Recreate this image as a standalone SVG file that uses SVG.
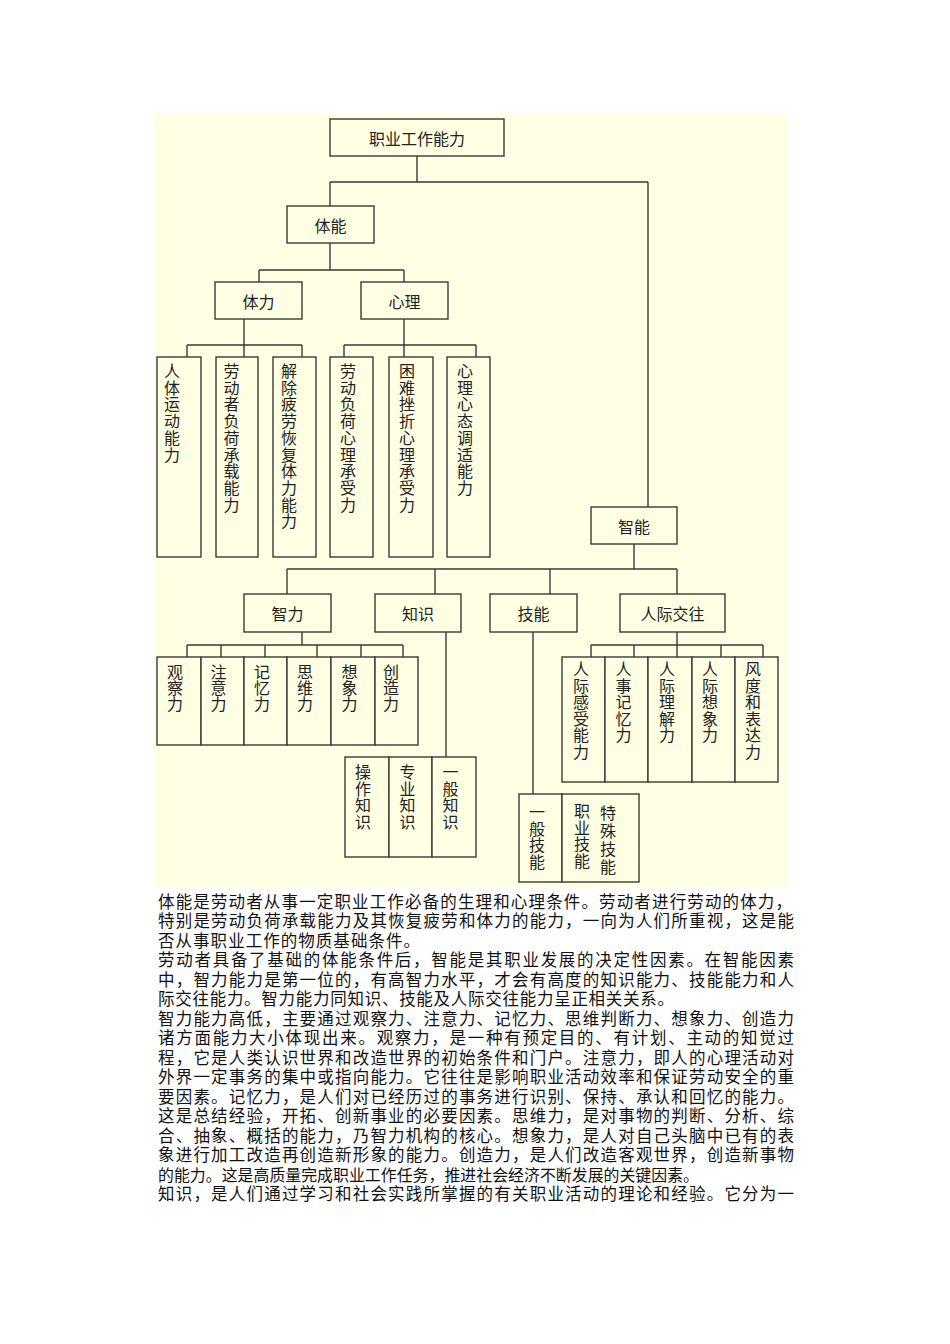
<svg xmlns="http://www.w3.org/2000/svg" width="950" height="1344" viewBox="0 0 950 1344">
<style>
.bg{fill:#FFFFE3}
.box{fill:#FFFFE3;stroke:#3a3a3a;stroke-width:1.4}
.ln{stroke:#3a3a3a;stroke-width:1.4;fill:none}
.lb{font-family:"Noto Sans CJK SC","Noto Sans CJK JP",sans-serif;font-size:16px;fill:#222;text-anchor:middle;dominant-baseline:central}
.v{font-family:"Noto Sans CJK SC","Noto Sans CJK JP",sans-serif;font-size:16px;fill:#222;text-anchor:start;writing-mode:vertical-rl;text-orientation:upright}
.p{font-family:"Liberation Serif","Noto Sans CJK SC",serif;font-size:16.5px;fill:#111;dominant-baseline:central}
</style>
<rect width="950" height="1344" fill="#ffffff"/>
<rect class="bg" x="154" y="114" width="633" height="773"/>

<g id="connectors">
<path class="ln" d="M417,156V182M330,182H648M330,182V206M648,182V507"/>
<path class="ln" d="M330,243V270M259,270H404M259,270V282M404,270V282"/>
<path class="ln" d="M244,319V345M187,345H302M187,345V357M244,345V357M302,345V357"/>
<path class="ln" d="M404,319V345M344,345H476M344,345V357M404,345V357M476,345V357"/>
<path class="ln" d="M634,544V569M287,569H677M287,569V594M435,569V594M550,569V594M677,569V594"/>
<path class="ln" d="M302,632V645M187,645H403M187,645V657M221,645V657M265,645V657M317,645V657M361,645V657M403,645V657"/>
<path class="ln" d="M446,632V757"/>
<path class="ln" d="M533,632V794"/>
<path class="ln" d="M677,632V645M591,645H763M591,645V657M634,645V657M677,645V657M721,645V657M763,645V657"/>
</g>

<g id="n-root"><rect class="box" x="330" y="119" width="174" height="37"/><text class="lb" x="417" y="137.5">职业工作能力</text></g>
<g id="n-tineng"><rect class="box" x="287" y="206" width="87" height="37"/><text class="lb" x="330.5" y="224.5">体能</text></g>
<g id="n-tili"><rect class="box" x="215" y="282" width="87" height="37"/><text class="lb" x="258.5" y="300.5">体力</text></g>
<g id="n-xinli"><rect class="box" x="361" y="282" width="87" height="37"/><text class="lb" x="404.5" y="300.5">心理</text></g>

<g id="n-t1"><rect class="box" x="157" y="357" width="44" height="200"/><text class="v" x="172" y="363" letter-spacing="0.7">人体运动能力</text></g>
<g id="n-t2"><rect class="box" x="216" y="357" width="42" height="200"/><text class="v" x="231.5" y="363" letter-spacing="0.7">劳动者负荷承载能力</text></g>
<g id="n-t3"><rect class="box" x="273" y="357" width="43" height="200"/><text class="v" x="289" y="363" letter-spacing="0.7">解除疲劳恢复体力能力</text></g>
<g id="n-t4"><rect class="box" x="330" y="357" width="43" height="200"/><text class="v" x="348" y="363" letter-spacing="0.7">劳动负荷心理承受力</text></g>
<g id="n-t5"><rect class="box" x="389" y="357" width="44" height="200"/><text class="v" x="407" y="363" letter-spacing="0.7">困难挫折心理承受力</text></g>
<g id="n-t6"><rect class="box" x="447" y="357" width="43" height="200"/><text class="v" x="465" y="363" letter-spacing="0.7">心理心态调适能力</text></g>

<g id="n-zhineng"><rect class="box" x="591" y="507" width="86" height="37"/><text class="lb" x="634" y="525.5">智能</text></g>
<g id="n-zhili"><rect class="box" x="244" y="594" width="87" height="38"/><text class="lb" x="287.5" y="613">智力</text></g>
<g id="n-zhishi"><rect class="box" x="375" y="594" width="86" height="38"/><text class="lb" x="418" y="613">知识</text></g>
<g id="n-jineng"><rect class="box" x="490" y="594" width="87" height="38"/><text class="lb" x="533.5" y="613">技能</text></g>
<g id="n-renji"><rect class="box" x="620" y="594" width="105" height="38"/><text class="lb" x="672.5" y="613">人际交往</text></g>

<g id="n-z1"><rect class="box" x="157" y="657" width="44" height="88"/><text class="v" x="175" y="664">观察力</text></g>
<g id="n-z2"><rect class="box" x="201" y="657" width="43" height="88"/><text class="v" x="218.5" y="664">注意力</text></g>
<g id="n-z3"><rect class="box" x="244" y="657" width="43" height="88"/><text class="v" x="262" y="664">记忆力</text></g>
<g id="n-z4"><rect class="box" x="287" y="657" width="44" height="88"/><text class="v" x="305" y="664">思维力</text></g>
<g id="n-z5"><rect class="box" x="331" y="657" width="44" height="88"/><text class="v" x="349.5" y="664">想象力</text></g>
<g id="n-z6"><rect class="box" x="375" y="657" width="43" height="88"/><text class="v" x="391" y="664">创造力</text></g>

<g id="n-k1"><rect class="box" x="345" y="757" width="44" height="100"/><text class="v" x="363" y="764" letter-spacing="0.7">操作知识</text></g>
<g id="n-k2"><rect class="box" x="389" y="757" width="43" height="100"/><text class="v" x="407.5" y="764" letter-spacing="0.7">专业知识</text></g>
<g id="n-k3"><rect class="box" x="432" y="757" width="44" height="100"/><text class="v" x="450.5" y="764" letter-spacing="0.7">一般知识</text></g>

<g id="n-r1"><rect class="box" x="562" y="657" width="43" height="125"/><text class="v" x="581" y="661" letter-spacing="0.5">人际感受能力</text></g>
<g id="n-r2"><rect class="box" x="605" y="657" width="43" height="125"/><text class="v" x="623.5" y="661" letter-spacing="0.5">人事记忆力</text></g>
<g id="n-r3"><rect class="box" x="648" y="657" width="44" height="125"/><text class="v" x="667" y="661" letter-spacing="0.5">人际理解力</text></g>
<g id="n-r4"><rect class="box" x="692" y="657" width="43" height="125"/><text class="v" x="710" y="661" letter-spacing="0.5">人际想象力</text></g>
<g id="n-r5"><rect class="box" x="735" y="657" width="43" height="125"/><text class="v" x="753" y="661" letter-spacing="0.5">风度和表达力</text></g>

<g id="n-s1"><rect class="box" x="519" y="794" width="43" height="88"/><text class="v" x="537" y="804" letter-spacing="0.7">一般技能</text></g>
<g id="n-s2"><rect class="box" x="562" y="794" width="77" height="88"/><text class="v" x="582" y="803" letter-spacing="0.5">职业技能</text><text class="v" x="608" y="805" letter-spacing="2">特殊技能</text></g>

<g id="paragraphs">
<text class="p" x="158" y="902" textLength="634" lengthAdjust="spacing">体能是劳动者从事一定职业工作必备的生理和心理条件。劳动者进行劳动的体力，</text>
<text class="p" x="158" y="921.5" textLength="636" lengthAdjust="spacing">特别是劳动负荷承载能力及其恢复疲劳和体力的能力，一向为人们所重视，这是能</text>
<text class="p" x="158" y="941" textLength="262" lengthAdjust="spacing">否从事职业工作的物质基础条件。</text>
<text class="p" x="158" y="960.5" textLength="636" lengthAdjust="spacing">劳动者具备了基础的体能条件后，智能是其职业发展的决定性因素。在智能因素</text>
<text class="p" x="158" y="980" textLength="636" lengthAdjust="spacing">中，智力能力是第一位的，有高智力水平，才会有高度的知识能力、技能能力和人</text>
<text class="p" x="158" y="999.5" textLength="516" lengthAdjust="spacing">际交往能力。智力能力同知识、技能及人际交往能力呈正相关关系。</text>
<text class="p" x="158" y="1019" textLength="636" lengthAdjust="spacing">智力能力高低，主要通过观察力、注意力、记忆力、思维判断力、想象力、创造力</text>
<text class="p" x="158" y="1038.5" textLength="636" lengthAdjust="spacing">诸方面能力大小体现出来。观察力，是一种有预定目的、有计划、主动的知觉过</text>
<text class="p" x="158" y="1058" textLength="636" lengthAdjust="spacing">程，它是人类认识世界和改造世界的初始条件和门户。注意力，即人的心理活动对</text>
<text class="p" x="158" y="1077.5" textLength="636" lengthAdjust="spacing">外界一定事务的集中或指向能力。它往往是影响职业活动效率和保证劳动安全的重</text>
<text class="p" x="158" y="1097" textLength="636" lengthAdjust="spacing">要因素。记忆力，是人们对已经历过的事务进行识别、保持、承认和回忆的能力。</text>
<text class="p" x="158" y="1116.5" textLength="636" lengthAdjust="spacing">这是总结经验，开拓、创新事业的必要因素。思维力，是对事物的判断、分析、综</text>
<text class="p" x="158" y="1136" textLength="636" lengthAdjust="spacing">合、抽象、概括的能力，乃智力机构的核心。想象力，是人对自己头脑中已有的表</text>
<text class="p" x="158" y="1155.5" textLength="636" lengthAdjust="spacing">象进行加工改造再创造新形象的能力。创造力，是人们改造客观世界，创造新事物</text>
<text class="p" x="158" y="1175" style="font-size:15.9px" textLength="541" lengthAdjust="spacing">的能力。这是高质量完成职业工作任务，推进社会经济不断发展的关键因素。</text>
<text class="p" x="158" y="1194.5" textLength="636" lengthAdjust="spacing">知识，是人们通过学习和社会实践所掌握的有关职业活动的理论和经验。它分为一</text>
</g>
</svg>
